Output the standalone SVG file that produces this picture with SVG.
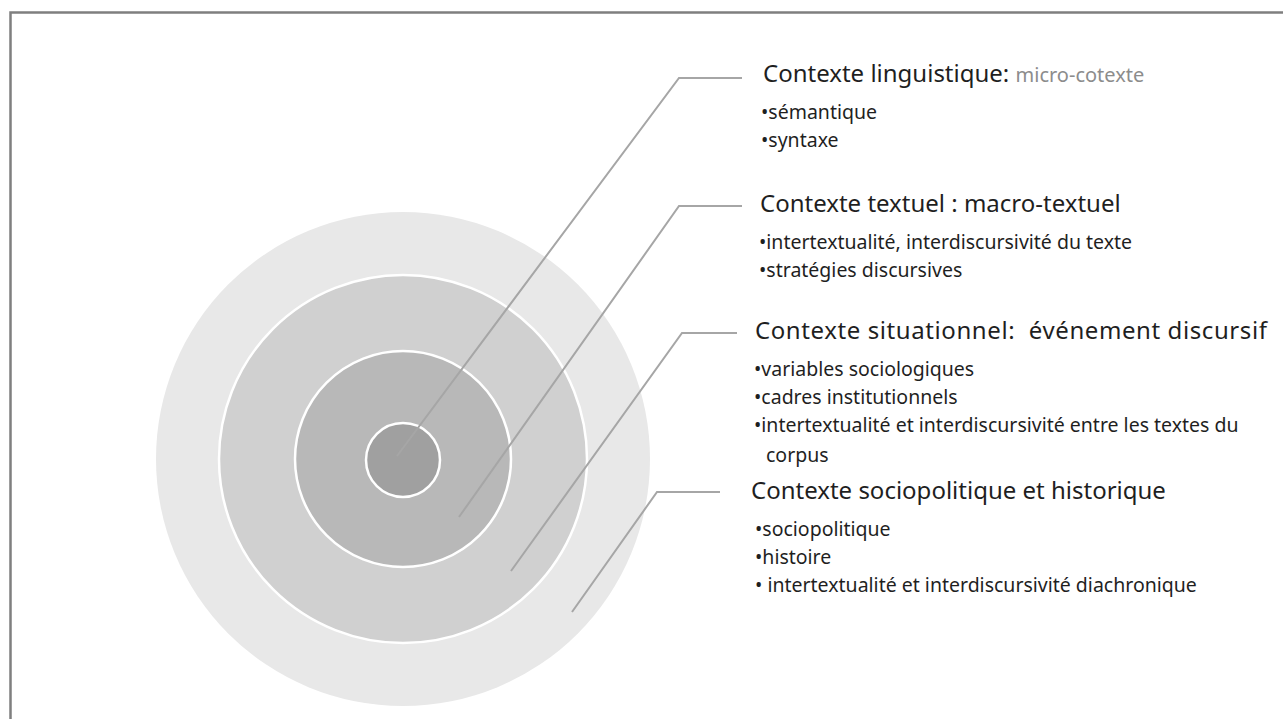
<svg xmlns="http://www.w3.org/2000/svg" width="1283" height="719" viewBox="0 0 1283 719">
  <style>
    .frame { fill: none; stroke: #7f7f7f; stroke-width: 2.5; }
    .ring { stroke: #ffffff; stroke-width: 2.5; }
    .leader { fill: none; stroke: #a6a6a6; stroke-width: 2; }
    .head { font-family: "Noto Sans", "Open Sans", sans-serif; font-size: 24px; fill: #1f1f1f; }
    .item { font-family: "Noto Sans", "Open Sans", sans-serif; font-size: 19.5px; fill: #1f1f1f; }
    .soft { fill: #8c8c8c; font-size: 20px; }
  </style>

  <rect width="1283" height="719" fill="#ffffff"/>
  <!-- frame: top and left edges -->
  <path class="frame" d="M10.5,719 V12.5 H1283"/>

  <!-- concentric context rings -->
  <g id="ring-sociopolitique">
    <circle cx="403" cy="459" r="247" fill="#e8e8e8"/>
  </g>
  <g id="ring-situationnel">
    <circle class="ring" cx="403" cy="459" r="184" fill="#d0d0d0"/>
  </g>
  <g id="ring-textuel">
    <circle class="ring" cx="403" cy="459" r="108" fill="#b8b8b8"/>
  </g>
  <g id="ring-linguistique">
    <circle class="ring" cx="403" cy="460" r="37" fill="#a0a0a0"/>
  </g>

  <!-- leader lines -->
  <g id="connectors">
    <polyline class="leader" points="397,456 679,78 742,78"/>
    <polyline class="leader" points="459,517 679,206 742,206"/>
    <polyline class="leader" points="511,571 682,333 737,333"/>
    <polyline class="leader" points="572,612 657,492 720,492"/>
  </g>

  <!-- labels -->
  <g id="label-linguistique">
    <text class="head" x="763" y="82">Contexte linguistique: <tspan class="soft">micro-cotexte</tspan></text>
    <text class="item" x="761" y="119">•sémantique</text>
    <text class="item" x="761" y="147">•syntaxe</text>
  </g>
  <g id="label-textuel">
    <text class="head" x="760" y="212">Contexte textuel : macro-textuel</text>
    <text class="item" x="759" y="249">•intertextualité, interdiscursivité du texte</text>
    <text class="item" x="759" y="277">•stratégies discursives</text>
  </g>
  <g id="label-situationnel">
    <text class="head" x="755" y="339" xml:space="preserve" textLength="512" lengthAdjust="spacing">Contexte situationnel:  événement discursif</text>
    <text class="item" x="754" y="376">•variables sociologiques</text>
    <text class="item" x="754" y="404">•cadres institutionnels</text>
    <text class="item" x="754" y="432">•intertextualité et interdiscursivité entre les textes du</text>
    <text class="item" x="766" y="462">corpus</text>
  </g>
  <g id="label-sociopolitique">
    <text class="head" x="751" y="499">Contexte sociopolitique et historique</text>
    <text class="item" x="755" y="536">•sociopolitique</text>
    <text class="item" x="755" y="564">•histoire</text>
    <text class="item" x="755" y="592" xml:space="preserve">• intertextualité et interdiscursivité diachronique</text>
  </g>
</svg>
